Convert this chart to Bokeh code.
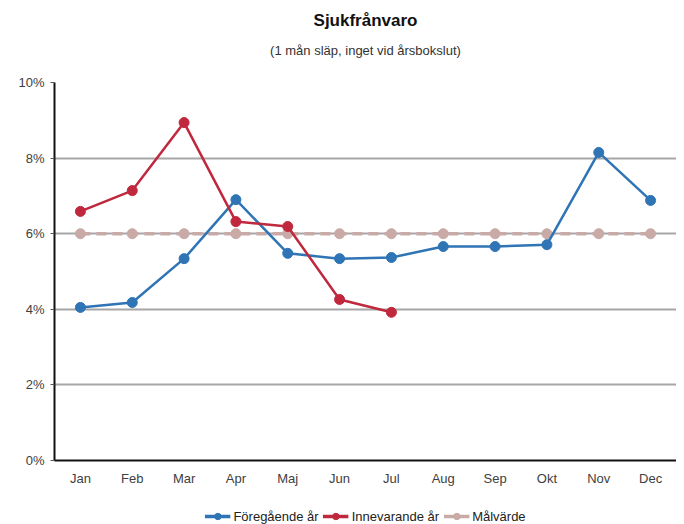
from bokeh.plotting import figure
from bokeh.models import FactorRange, Legend, LegendItem, FixedTicker, Range1d, Label
from bokeh.layouts import column
from bokeh.embed import file_html
from bokeh.resources import INLINE

months = ["Jan", "Feb", "Mar", "Apr", "Maj", "Jun", "Jul", "Aug", "Sep", "Okt", "Nov", "Dec"]
prev_year = [4.05, 4.18, 5.34, 6.90, 5.48, 5.34, 5.37, 5.66, 5.66, 5.71, 8.15, 6.88]
cur_months = ["Jan", "Feb", "Mar", "Apr", "Maj", "Jun", "Jul"]
cur_year = [6.59, 7.14, 8.94, 6.32, 6.19, 4.26, 3.92]
target = [6.0] * 12
y_ticks = [0, 2, 4, 6, 8, 10]
series_names = ["Föregående år", "Innevarande år", "Målvärde"]
title_text = "Sjukfrånvaro"
subtitle_text = "(1 mån släp, inget vid årsbokslut)"

FONT = "Liberation Sans"
BLUE = "#2f74b5"
RED = "#c0283d"
TAN = "#c9aaa7"
W = 676


def bare(fig):
    fig.axis.visible = False
    fig.grid.visible = False
    fig.outline_line_color = None


# title strip
tf = figure(width=W, height=74, x_range=Range1d(0, 1), y_range=Range1d(0, 74),
            output_backend="svg", toolbar_location=None,
            min_border_left=0, min_border_right=0, min_border_top=0, min_border_bottom=0)
bare(tf)
tf.add_layout(Label(x=0.5, y=54, text=title_text, text_align="center", text_baseline="middle",
                    text_font=FONT, text_font_size="17px", text_font_style="bold",
                    text_color="#111111"))
tf.add_layout(Label(x=0.5, y=24, text=subtitle_text, text_align="center", text_baseline="middle",
                    text_font=FONT, text_font_size="13px", text_color="#333333"))

# main chart
p = figure(width=W, height=414, x_range=FactorRange(factors=months), y_range=(0, 10),
           output_backend="svg", toolbar_location=None,
           min_border_left=54, min_border_right=0, min_border_top=8, min_border_bottom=26)
p.outline_line_color = None
p.xgrid.grid_line_color = None
p.ygrid.grid_line_color = "#a6a6a6"
p.ygrid.grid_line_width = 2
p.yaxis.ticker = FixedTicker(ticks=y_ticks)
p.yaxis.major_label_overrides = {t: f"{t}%" for t in y_ticks}
p.yaxis.axis_line_color = "#111111"
p.yaxis.axis_line_width = 2
p.yaxis.major_tick_line_color = "#555555"
p.yaxis.major_tick_out = 4
p.yaxis.major_tick_in = 0
p.yaxis.minor_tick_line_color = None
p.yaxis.major_label_text_font = FONT
p.yaxis.major_label_text_font_size = "13px"
p.yaxis.major_label_text_color = "#404040"
p.yaxis.major_label_standoff = 6

p.xaxis.axis_line_color = "#111111"
p.xaxis.axis_line_width = 2
p.xaxis.major_tick_line_color = None
p.xaxis.minor_tick_line_color = None
p.xaxis.major_label_text_font = FONT
p.xaxis.major_label_text_font_size = "13px"
p.xaxis.major_label_text_color = "#404040"
p.xaxis.major_label_standoff = 4

p.line(months, target, line_color=TAN, line_width=3.5, line_dash="10 6")
p.scatter(months, target, size=10, fill_color=TAN, line_color=TAN)
p.line(months, prev_year, line_color=BLUE, line_width=2.5)
p.scatter(months, prev_year, size=10, fill_color=BLUE, line_color=BLUE)
p.line(cur_months, cur_year, line_color=RED, line_width=2.5)
p.scatter(cur_months, cur_year, size=10, fill_color=RED, line_color=RED)

# legend strip (series drawn out of view, only the legend shows)
lg = figure(width=W, height=36, x_range=FactorRange(factors=months), y_range=Range1d(100, 101),
            output_backend="svg", toolbar_location=None,
            min_border_left=0, min_border_right=0, min_border_top=0, min_border_bottom=0)
bare(lg)
items = []
for name, xs, ys, col in zip(series_names, [months, cur_months, months],
                             [prev_year, cur_year, target], [BLUE, RED, TAN]):
    ln = lg.line(xs, ys, line_color=col, line_width=3.5)
    pt = lg.scatter(xs, ys, size=12, fill_color=col, line_color=col)
    items.append(LegendItem(label=name, renderers=[ln, pt]))
legend = Legend(items=items, orientation="horizontal", location="bottom_center",
                border_line_color=None, background_fill_alpha=0,
                label_text_font=FONT, label_text_font_size="13px",
                label_text_color="#222222", glyph_width=26, glyph_height=16,
                spacing=4, label_standoff=3, padding=0, margin=0)
lg.add_layout(legend, "center")

layout = column(tf, p, lg)
open("out.html", "w").write(file_html(layout, INLINE))
